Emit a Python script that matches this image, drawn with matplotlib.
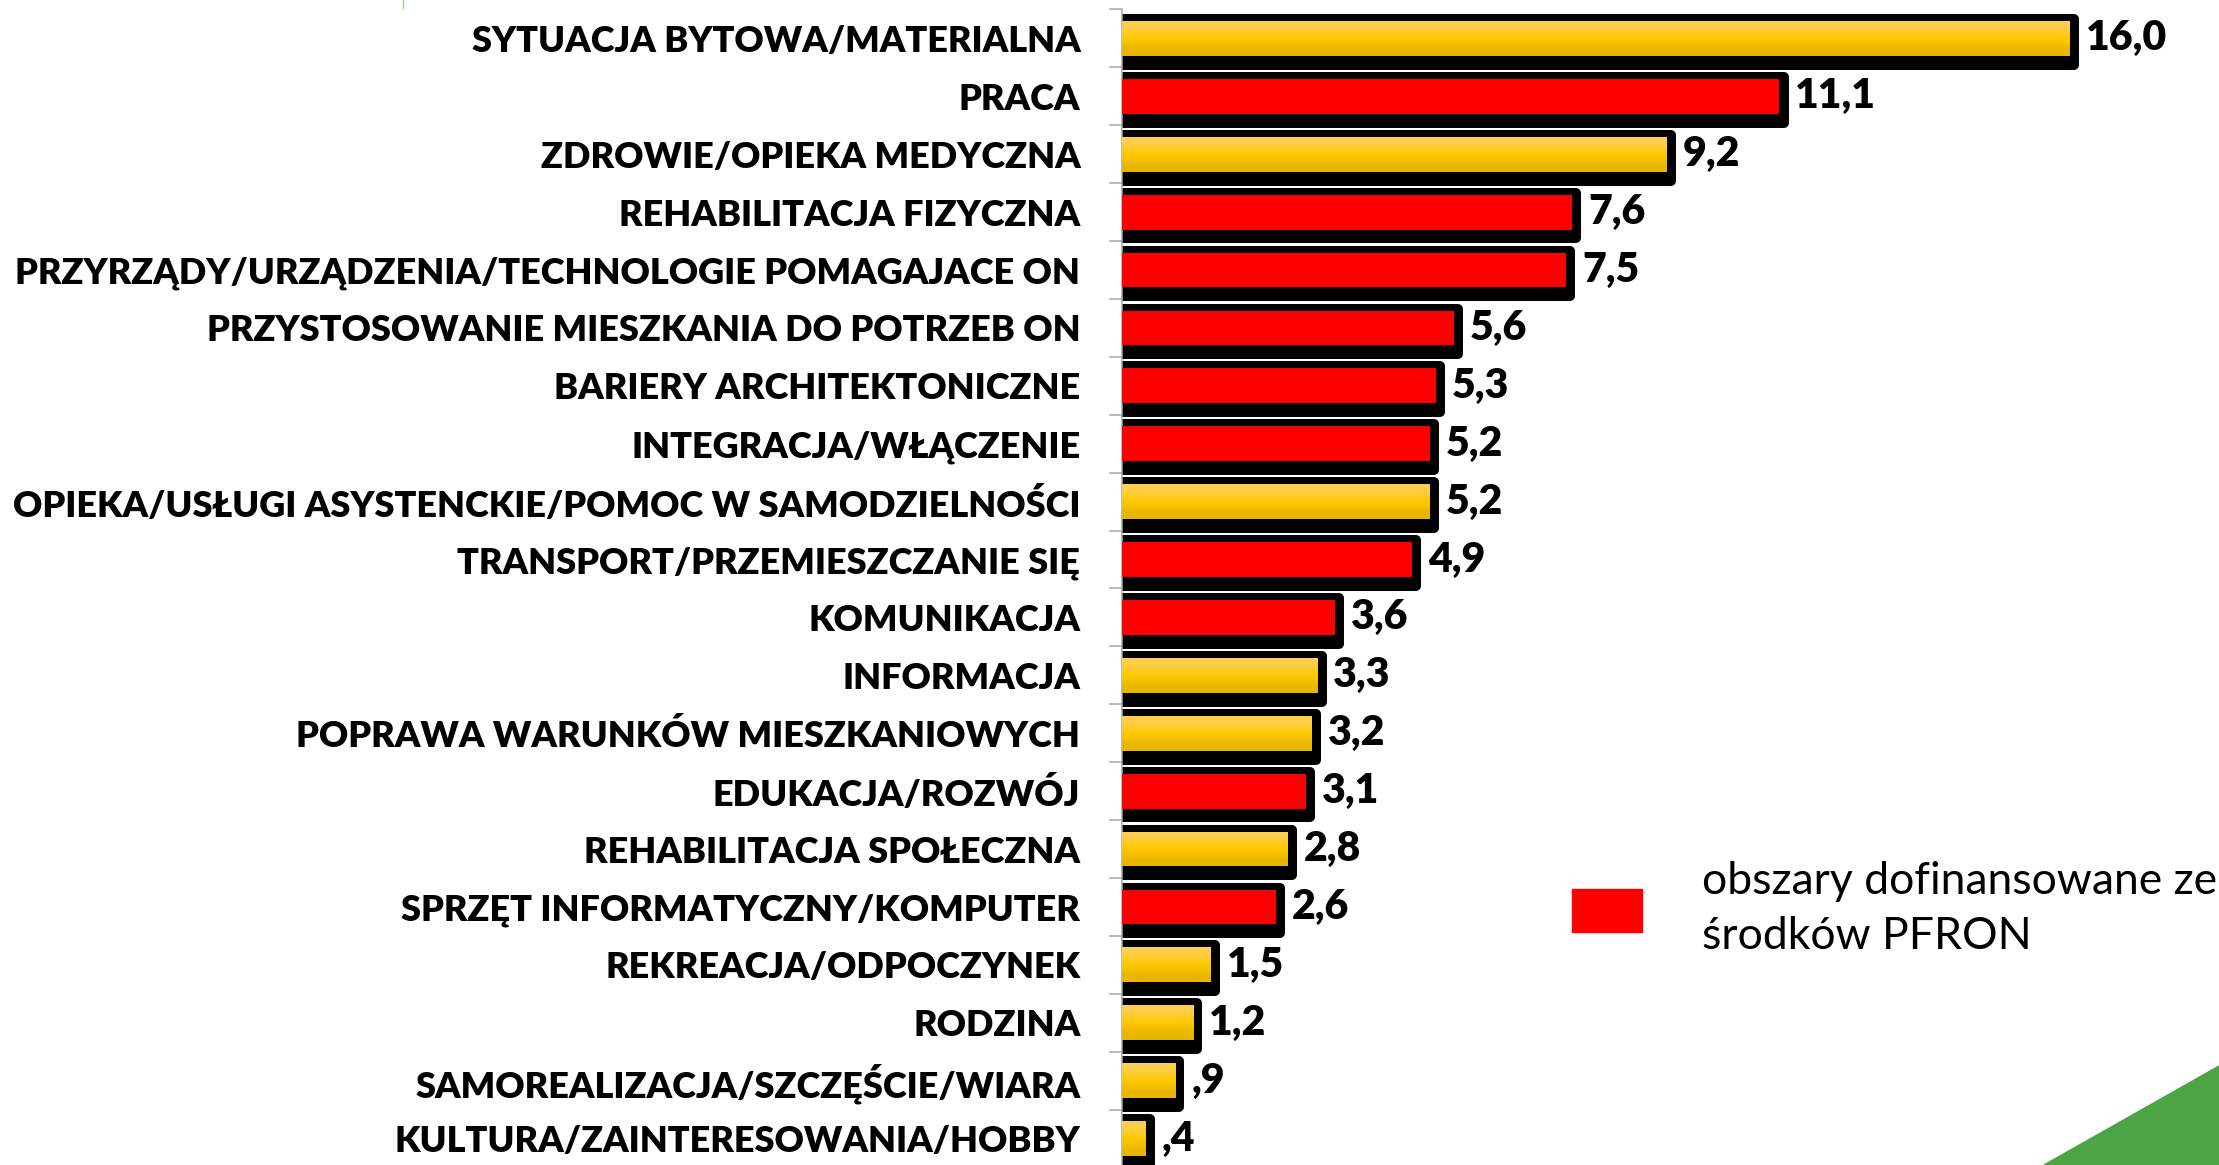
import numpy as np
import matplotlib
matplotlib.use("Agg")
import matplotlib.pyplot as plt
from matplotlib.patches import Patch, Polygon
from matplotlib.lines import Line2D

plt.rcParams['font.family'] = ['Lato', 'DejaVu Sans']

categories = [
    "SYTUACJA BYTOWA/MATERIALNA",
    "PRACA",
    "ZDROWIE/OPIEKA MEDYCZNA",
    "REHABILITACJA FIZYCZNA",
    "PRZYRZĄDY/URZĄDZENIA/TECHNOLOGIE POMAGAJACE ON",
    "PRZYSTOSOWANIE MIESZKANIA DO POTRZEB ON",
    "BARIERY ARCHITEKTONICZNE",
    "INTEGRACJA/WŁĄCZENIE",
    "OPIEKA/USŁUGI ASYSTENCKIE/POMOC W SAMODZIELNOŚCI",
    "TRANSPORT/PRZEMIESZCZANIE SIĘ",
    "KOMUNIKACJA",
    "INFORMACJA",
    "POPRAWA WARUNKÓW MIESZKANIOWYCH",
    "EDUKACJA/ROZWÓJ",
    "REHABILITACJA SPOŁECZNA",
    "SPRZĘT INFORMATYCZNY/KOMPUTER",
    "REKREACJA/ODPOCZYNEK",
    "RODZINA",
    "SAMOREALIZACJA/SZCZĘŚCIE/WIARA",
    "KULTURA/ZAINTERESOWANIA/HOBBY",
]
values = [16.0, 11.1, 9.2, 7.6, 7.5, 5.6, 5.3, 5.2, 5.2, 4.9,
          3.6, 3.3, 3.2, 3.1, 2.8, 2.6, 1.5, 1.2, 0.9, 0.4]
# True = obszar dofinansowany ze srodkow PFRON (czerwony)
pfron = [False, True, False, True, True, True, True, True, False, True,
         True, False, False, True, False, True, False, False, False, False]

legend_label = "obszary dofinansowane ze\nśrodków PFRON"

RED = "#FF0000"
GOLD = "#FFC800"


def fmt(v):
    s = f"{v:.1f}".replace('.', ',')
    return s[1:] if s.startswith('0') else s


W, H = 2219, 1165
fig = plt.figure(figsize=(W / 100, H / 100), dpi=100)
ax = fig.add_axes([1122 / W, 1 - 1167.5 / H, 1066 / W, 1158 / H])

y = np.arange(len(values))
vals = np.array(values)

# black "shadow" outline behind each bar
ax.barh(y + 0.06, vals + 0.07, height=0.79, left=0, color='black',
        edgecolor='black', linewidth=7.2, joinstyle='round', zorder=2)

colors = [RED if p else GOLD for p in pfron]
bars = ax.barh(y, vals, height=0.60, color=colors, linewidth=0, zorder=3)

# gold gradient on the non-PFRON bars
grad = np.array([[1.0, 0.81, 0.30], [1.0, 0.79, 0.0], [0.91, 0.71, 0.0]])
grad_img = grad[:, None, :]
for b, p in zip(bars, pfron):
    if p:
        continue
    x0, y0 = b.get_x(), b.get_y()
    im = ax.imshow(grad_img, extent=(x0, x0 + b.get_width(), y0 + b.get_height(), y0),
                   origin='upper', aspect='auto', interpolation='bilinear', zorder=4)
    im.set_clip_path(b)

ax.bar_label(bars, labels=[fmt(v) for v in values], padding=11.5,
             fontsize=29.5, fontweight='heavy', color='black', zorder=5)

ax.set_xlim(0, 18)
ax.set_ylim(len(values) - 0.5, -0.5)

ax.set_yticks(y)
ax.set_yticklabels(categories, fontsize=26, fontweight='heavy', color='black')
ax.set_yticks(np.arange(len(values) + 1) - 0.5, minor=True)
ax.tick_params(axis='y', which='major', length=0, pad=30)
ax.tick_params(axis='y', which='minor', length=9.5, width=1.1, color='#A6A6A6')
ax.set_xticks([])
for s in ['top', 'right', 'bottom']:
    ax.spines[s].set_visible(False)
ax.spines['left'].set_color('#A6A6A6')
ax.spines['left'].set_linewidth(1.1)

leg = fig.legend(handles=[Patch(facecolor=RED, edgecolor=RED)], labels=[legend_label],
                 loc='center left', bbox_to_anchor=(1572 / W, 1 - 909 / H),
                 frameon=False, fontsize=32, borderpad=0, borderaxespad=0,
                 handlelength=1.58, handleheight=1.10, handletextpad=1.35)
leg.get_texts()[0].set_linespacing(1.4)

# green corner decoration and small mark at the top
fig.add_artist(Polygon([(2044 / W, 0), (1, (H - 1066) / H), (1, 0)],
                       closed=True, transform=fig.transFigure, color='#4CA444'))
fig.add_artist(Line2D([403 / W, 403 / W], [1, 1 - 8 / H], transform=fig.transFigure,
                      color='#9CCB9C', linewidth=1))

fig.savefig("out.png", dpi=100)
